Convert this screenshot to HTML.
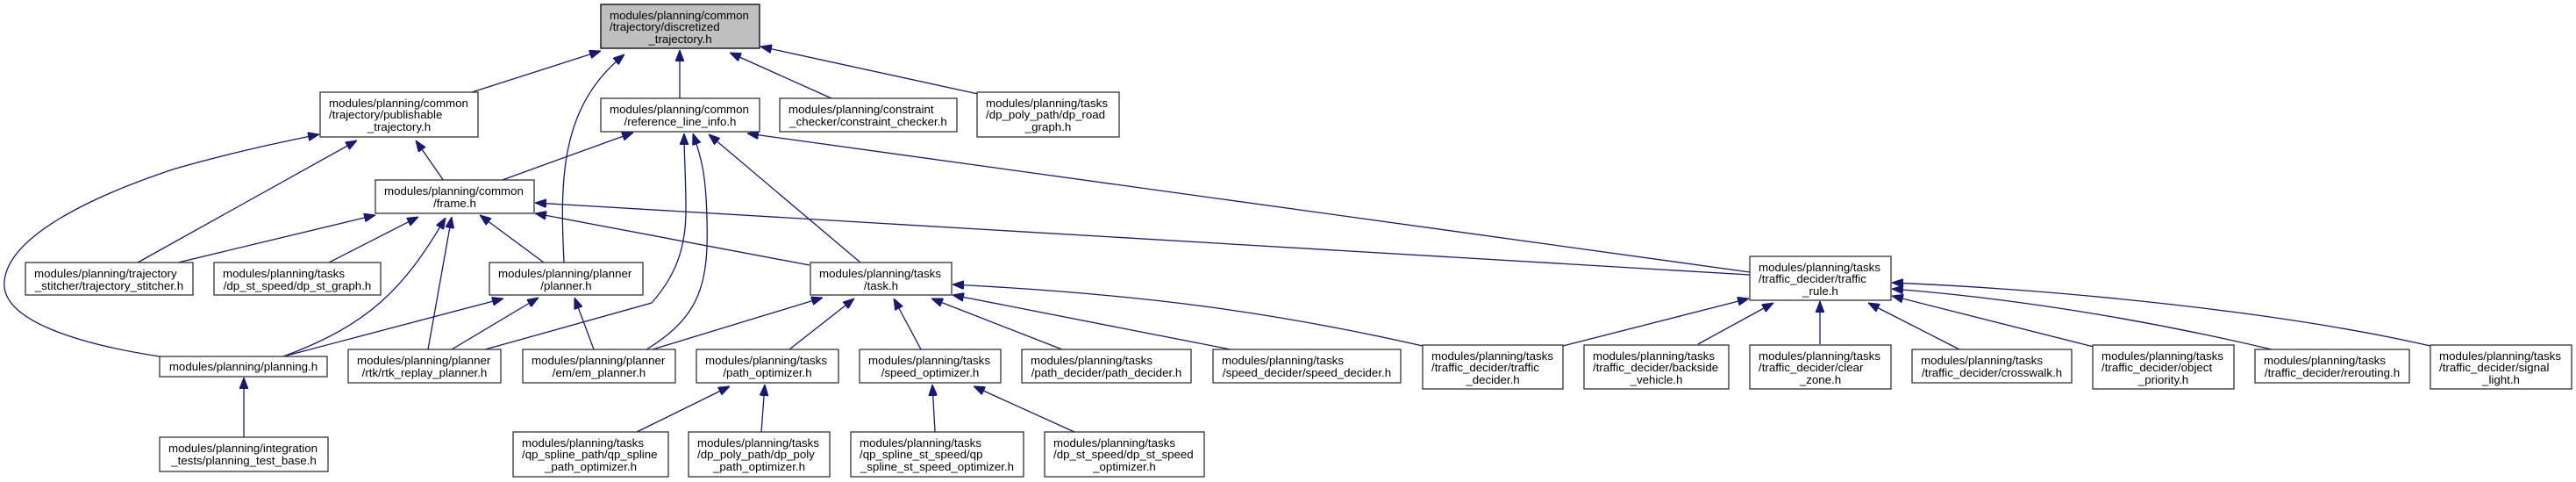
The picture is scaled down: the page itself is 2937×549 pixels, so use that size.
<!DOCTYPE html>
<html><head><meta charset="utf-8"><style>
html,body{margin:0;padding:0;background:#fff;}
svg{display:block;}
text{font-family:"Liberation Sans",Arial,sans-serif;font-size:13.3px;fill:#000;}
.b{fill:#fff;stroke:#333;stroke-width:1.3;}
.e{fill:none;stroke:#191970;stroke-width:1.3;marker-end:url(#a);}
</style></head><body>
<svg width="2937" height="549" viewBox="0 0 2937 549" xmlns="http://www.w3.org/2000/svg">
<defs><marker id="a" markerWidth="13" markerHeight="10" refX="13" refY="5" orient="auto" markerUnits="userSpaceOnUse"><path d="M0,0 L13,5 L0,10 z" fill="#191970" stroke="#191970"/></marker></defs>

<!-- edges -->
<path class="e" d="M538,105 L685,58"/>
<path class="e" d="M643,299 C638,200 640,120 712,62"/>
<path class="e" d="M775,112 L775,57"/>
<path class="e" d="M948,112 L832,60"/>
<path class="e" d="M1115,107 L867,53"/>

<path class="e" d="M182,406 C90,392 0,365 5,320 C10,270 100,225 200,192 C260,175 310,164 364,153"/>
<path class="e" d="M157,299 L407,160"/>
<path class="e" d="M506,206 L474,160"/>

<path class="e" d="M570,206 L722,151"/>
<path class="e" d="M553,398 L600,385 L743,345 C765,320 782,290 782,240 C782,200 780,180 780,152"/>
<path class="e" d="M737,398 C800,360 808,320 806,250 C805,200 800,180 790,152"/>
<path class="e" d="M981,299 L808,153"/>
<path class="e" d="M1995,310 L852,152"/>

<path class="e" d="M203,299 L428,245"/>
<path class="e" d="M375,299 L477,247"/>
<path class="e" d="M323,406 C420,370 460,330 508,248"/>
<path class="e" d="M488,398 L515,247"/>
<path class="e" d="M620,299 L547,245"/>
<path class="e" d="M923,302 L610,243"/>
<path class="e" d="M1995,313 L610,231"/>

<path class="e" d="M323,406 L574,340"/>
<path class="e" d="M515,398 L614,339"/>
<path class="e" d="M677,398 L655,339"/>

<path class="e" d="M744,398 L938,339"/>
<path class="e" d="M900,398 L974,340"/>
<path class="e" d="M1050,398 L1019,340"/>
<path class="e" d="M1211,398 L1062,340"/>
<path class="e" d="M1403,398 L1086,336"/>
<path class="e" d="M1622,394 C1450,355 1300,335 1086,324"/>

<path class="e" d="M1782,394 L1994,340"/>
<path class="e" d="M1936,392 L2022,345"/>
<path class="e" d="M2075,392 L2075,343"/>
<path class="e" d="M2234,398 L2130,345"/>
<path class="e" d="M2387,395 L2157,337"/>
<path class="e" d="M2590,398 C2450,365 2300,340 2157,329"/>
<path class="e" d="M2771,394 C2600,355 2350,330 2157,322"/>

<path class="e" d="M278,498 L278,430"/>
<path class="e" d="M726,492 L832,440"/>
<path class="e" d="M868,492 L872,438"/>
<path class="e" d="M1066,492 L1063,438"/>
<path class="e" d="M1225,492 L1110,440"/>

<!-- nodes -->
<rect x="685" y="5" width="181" height="50" fill="#bfbfbf" stroke="#000" stroke-width="1.3"/>
<text x="695" y="22">modules/planning/common</text><text x="695" y="35">/trajectory/discretized</text><text x="775.5" y="49" text-anchor="middle">_trajectory.h</text>

<rect class="b" x="365" y="105" width="180" height="51"/>
<text x="375" y="122">modules/planning/common</text><text x="375" y="135">/trajectory/publishable</text><text x="455" y="149" text-anchor="middle">_trajectory.h</text>

<rect class="b" x="685" y="112" width="181" height="38"/>
<text x="695" y="129">modules/planning/common</text><text x="775.5" y="143" text-anchor="middle">/reference_line_info.h</text>

<rect class="b" x="889" y="112" width="202" height="38"/>
<text x="899" y="129">modules/planning/constraint</text><text x="990" y="143" text-anchor="middle">_checker/constraint_checker.h</text>

<rect class="b" x="1114" y="105" width="162" height="51"/>
<text x="1124" y="122">modules/planning/tasks</text><text x="1124" y="135">/dp_poly_path/dp_road</text><text x="1195" y="149" text-anchor="middle">_graph.h</text>

<rect class="b" x="428" y="205" width="181" height="38"/>
<text x="438" y="222">modules/planning/common</text><text x="518.5" y="236" text-anchor="middle">/frame.h</text>

<rect class="b" x="29" y="299" width="191" height="37"/>
<text x="39" y="316">modules/planning/trajectory</text><text x="124.5" y="330" text-anchor="middle">_stitcher/trajectory_stitcher.h</text>

<rect class="b" x="244" y="299" width="190" height="37"/>
<text x="254" y="316">modules/planning/tasks</text><text x="339" y="330" text-anchor="middle">/dp_st_speed/dp_st_graph.h</text>

<rect class="b" x="558" y="299" width="175" height="37"/>
<text x="568" y="316">modules/planning/planner</text><text x="645.5" y="330" text-anchor="middle">/planner.h</text>

<rect class="b" x="924" y="299" width="161" height="37"/>
<text x="934" y="316">modules/planning/tasks</text><text x="1004.5" y="330" text-anchor="middle">/task.h</text>

<rect class="b" x="1995" y="292" width="161" height="50"/>
<text x="2005" y="309">modules/planning/tasks</text><text x="2005" y="322">/traffic_decider/traffic</text><text x="2075.5" y="336" text-anchor="middle">_rule.h</text>

<rect class="b" x="182" y="406" width="191" height="23"/>
<text x="277.5" y="422" text-anchor="middle">modules/planning/planning.h</text>

<rect class="b" x="397" y="398" width="174" height="38"/>
<text x="407" y="415">modules/planning/planner</text><text x="484" y="429" text-anchor="middle">/rtk/rtk_replay_planner.h</text>

<rect class="b" x="596" y="398" width="174" height="38"/>
<text x="606" y="415">modules/planning/planner</text><text x="683" y="429" text-anchor="middle">/em/em_planner.h</text>

<rect class="b" x="794" y="398" width="162" height="38"/>
<text x="804" y="415">modules/planning/tasks</text><text x="875" y="429" text-anchor="middle">/path_optimizer.h</text>

<rect class="b" x="980" y="398" width="161" height="38"/>
<text x="990" y="415">modules/planning/tasks</text><text x="1060.5" y="429" text-anchor="middle">/speed_optimizer.h</text>

<rect class="b" x="1165" y="398" width="193" height="38"/>
<text x="1175" y="415">modules/planning/tasks</text><text x="1261.5" y="429" text-anchor="middle">/path_decider/path_decider.h</text>

<rect class="b" x="1383" y="398" width="214" height="38"/>
<text x="1393" y="415">modules/planning/tasks</text><text x="1490" y="429" text-anchor="middle">/speed_decider/speed_decider.h</text>

<rect class="b" x="1622" y="393" width="160" height="50"/>
<text x="1632" y="410">modules/planning/tasks</text><text x="1632" y="423">/traffic_decider/traffic</text><text x="1702" y="437" text-anchor="middle">_decider.h</text>

<rect class="b" x="1806" y="393" width="165" height="50"/>
<text x="1816" y="410">modules/planning/tasks</text><text x="1816" y="423">/traffic_decider/backside</text><text x="1888.5" y="437" text-anchor="middle">_vehicle.h</text>

<rect class="b" x="1995" y="393" width="161" height="50"/>
<text x="2005" y="410">modules/planning/tasks</text><text x="2005" y="423">/traffic_decider/clear</text><text x="2075.5" y="437" text-anchor="middle">_zone.h</text>

<rect class="b" x="2180" y="398" width="182" height="38"/>
<text x="2190" y="415">modules/planning/tasks</text><text x="2271" y="429" text-anchor="middle">/traffic_decider/crosswalk.h</text>

<rect class="b" x="2386" y="393" width="161" height="50"/>
<text x="2396" y="410">modules/planning/tasks</text><text x="2396" y="423">/traffic_decider/object</text><text x="2466.5" y="437" text-anchor="middle">_priority.h</text>

<rect class="b" x="2571" y="398" width="176" height="38"/>
<text x="2581" y="415">modules/planning/tasks</text><text x="2659" y="429" text-anchor="middle">/traffic_decider/rerouting.h</text>

<rect class="b" x="2771" y="393" width="161" height="50"/>
<text x="2781" y="410">modules/planning/tasks</text><text x="2781" y="423">/traffic_decider/signal</text><text x="2851.5" y="437" text-anchor="middle">_light.h</text>

<rect class="b" x="182" y="498" width="192" height="39"/>
<text x="192" y="515">modules/planning/integration</text><text x="278" y="529" text-anchor="middle">_tests/planning_test_base.h</text>

<rect class="b" x="585" y="492" width="177" height="51"/>
<text x="595" y="509">modules/planning/tasks</text><text x="595" y="522">/qp_spline_path/qp_spline</text><text x="673.5" y="536" text-anchor="middle">_path_optimizer.h</text>

<rect class="b" x="785" y="492" width="161" height="51"/>
<text x="795" y="509">modules/planning/tasks</text><text x="795" y="522">/dp_poly_path/dp_poly</text><text x="865.5" y="536" text-anchor="middle">_path_optimizer.h</text>

<rect class="b" x="970" y="492" width="197" height="51"/>
<text x="980" y="509">modules/planning/tasks</text><text x="980" y="522">/qp_spline_st_speed/qp</text><text x="1068.5" y="536" text-anchor="middle">_spline_st_speed_optimizer.h</text>

<rect class="b" x="1191" y="492" width="182" height="51"/>
<text x="1201" y="509">modules/planning/tasks</text><text x="1201" y="522">/dp_st_speed/dp_st_speed</text><text x="1282" y="536" text-anchor="middle">_optimizer.h</text>
</svg>
</body></html>
